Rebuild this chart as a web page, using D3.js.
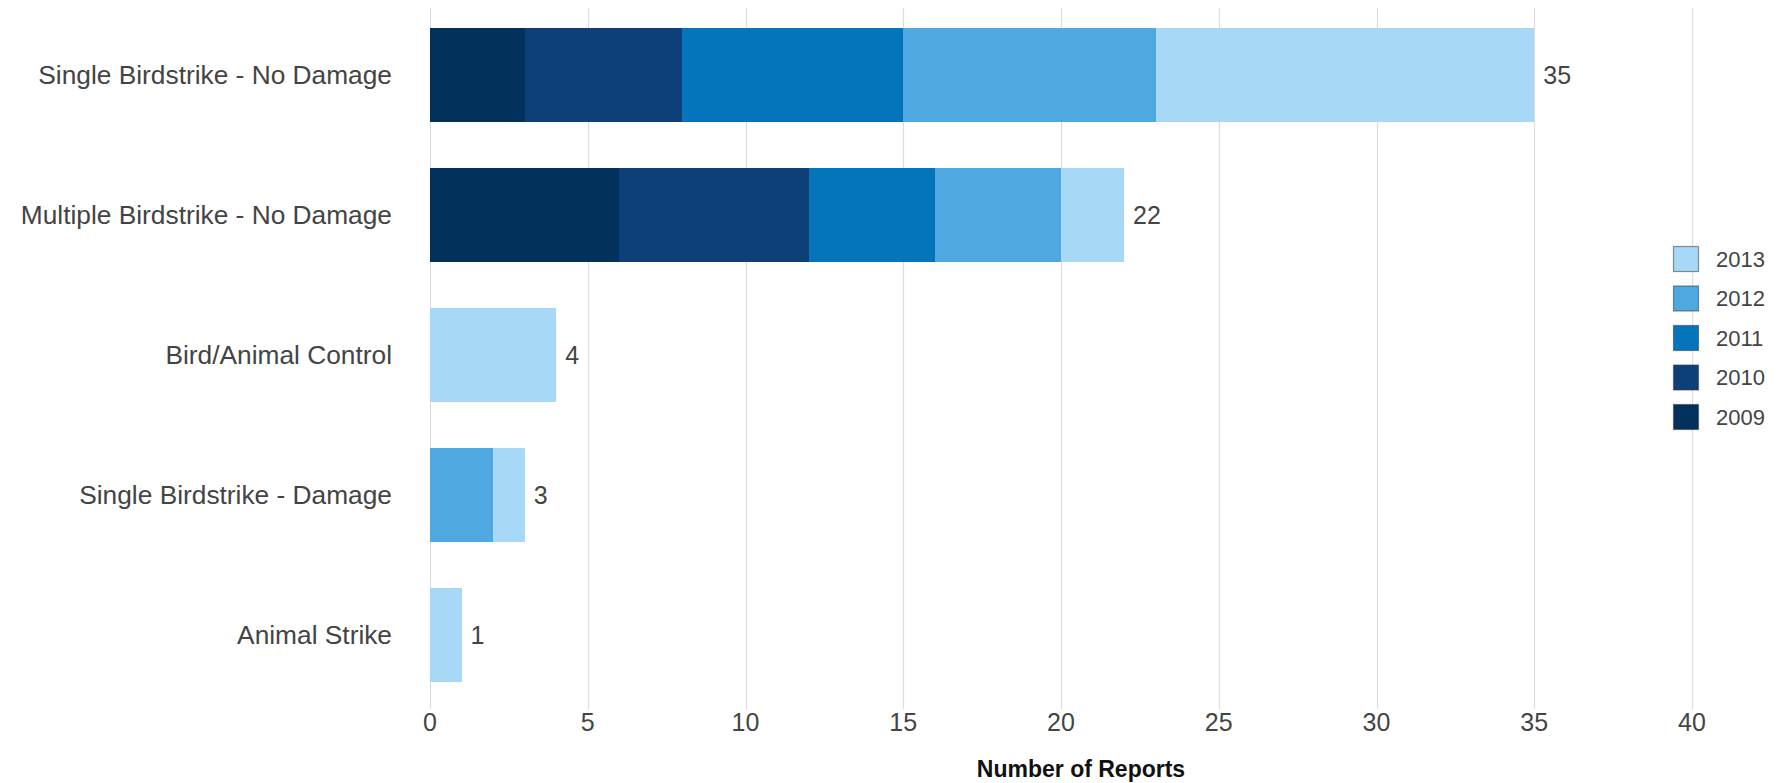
<!DOCTYPE html>
<html>
<head>
<meta charset="utf-8">
<script src="https://cdn.jsdelivr.net/npm/d3@7"></script>
<style>
  body { margin: 0; background: #fff; }
  svg { display: block; font-family: "Liberation Sans", Arial, sans-serif; }
  .grid line { stroke: #dcdcdc; stroke-width: 1.2; }
  .bars rect { shape-rendering: crispEdges; }
  .cat-label { fill: #444; font-size: 26.3px; }
  .tick-label { fill: #444; font-size: 25px; }
  .value-label { fill: #444; font-size: 25px; }
  .axis-title { fill: #111; font-size: 23px; font-weight: bold; }
  .legend text { fill: #444; font-size: 22px; }
</style>
</head>
<body>
<svg id="chart" width="1784" height="783"></svg>
<script>
// Bird / animal strike reports by category, stacked per year.

const categories = [
  "Single Birdstrike - No Damage",
  "Multiple Birdstrike - No Damage",
  "Bird/Animal Control",
  "Single Birdstrike - Damage",
  "Animal Strike",
];
const years = ["2009", "2010", "2011", "2012", "2013"];
const values2009 = [3, 6, 0, 0, 0];
const values2010 = [5, 6, 0, 0, 0];
const values2011 = [7, 4, 0, 0, 0];
const values2012 = [8, 4, 0, 2, 0];
const values2013 = [12, 2, 4, 1, 1];
const xTicks = [0, 5, 10, 15, 20, 25, 30, 35, 40];
const yearColors = ["#02315b", "#0d3f78", "#0474bb", "#4fa8e0", "#a7d8f5"];

const seriesValues = [values2009, values2010, values2011, values2012, values2013];

const rows = categories.map((name, i) => {
  const row = { name };
  years.forEach((year, j) => {
    row[year] = seriesValues[j][i];
  });
  row.total = d3.sum(years, (year) => row[year]);
  return row;
});

const svg = d3.select("#chart");
const margin = { top: 5, right: 92, bottom: 78, left: 430 };
const width = 1784 - margin.left - margin.right;
const height = 783 - margin.top - margin.bottom;

const x = d3.scaleLinear().domain([0, 40]).range([0, width]);
const y = d3
  .scaleBand()
  .domain(categories)
  .range([0, height])
  .paddingInner(0.335)
  .paddingOuter(0.335 / 2);
const color = d3.scaleOrdinal().domain(years).range(yearColors);

const g = svg
  .append("g")
  .attr("transform", `translate(${margin.left},${margin.top})`);

// vertical gridlines
g.append("g")
  .attr("class", "grid")
  .selectAll("line")
  .data(xTicks)
  .join("line")
  .attr("x1", (d) => Math.round(x(d)) + 0.5)
  .attr("x2", (d) => Math.round(x(d)) + 0.5)
  .attr("y1", 3)
  .attr("y2", height + 4);

// stacked bars
const stackData = d3.stack().keys(years)(rows);

g.append("g")
  .attr("class", "bars")
  .selectAll("g")
  .data(stackData, (s) => s.key)
  .join("g")
  .attr("fill", (s) => color(s.key))
  .selectAll("rect")
  .data((s) => s.filter((d) => d[1] > d[0]))
  .join("rect")
  .attr("x", (d) => x(d[0]))
  .attr("y", (d) => y(d.data.name))
  .attr("width", (d) => x(d[1]) - x(d[0]))
  .attr("height", y.bandwidth());

// totals at bar ends
g.append("g")
  .selectAll("text")
  .data(rows)
  .join("text")
  .attr("class", "value-label")
  .attr("x", (d) => x(d.total) + 9)
  .attr("y", (d) => y(d.name) + y.bandwidth() / 2)
  .attr("dy", "0.36em")
  .text((d) => d.total);

// category labels
g.append("g")
  .selectAll("text")
  .data(categories)
  .join("text")
  .attr("class", "cat-label")
  .attr("x", -38)
  .attr("y", (d) => y(d) + y.bandwidth() / 2)
  .attr("dy", "0.36em")
  .attr("text-anchor", "end")
  .text((d) => d);

// x tick labels
g.append("g")
  .selectAll("text")
  .data(xTicks)
  .join("text")
  .attr("class", "tick-label")
  .attr("x", (d) => x(d))
  .attr("y", height + 26)
  .attr("text-anchor", "middle")
  .text((d) => d);

g.append("text")
  .attr("class", "axis-title")
  .attr("x", width / 2 + 20)
  .attr("y", height + 72)
  .attr("text-anchor", "middle")
  .text("Number of Reports");

// legend, newest year on top
const legendYears = years.slice().reverse();
const legend = svg
  .append("g")
  .attr("class", "legend")
  .attr("transform", "translate(1673,246)");

const item = legend
  .selectAll("g")
  .data(legendYears)
  .join("g")
  .attr("transform", (d, i) => `translate(0,${i * 39.5})`);

item
  .append("rect")
  .attr("x", 0.5)
  .attr("y", 0.5)
  .attr("width", 25)
  .attr("height", 25)
  .attr("fill", (d) => color(d))
  .attr("stroke", "rgba(50,60,75,0.55)")
  .attr("stroke-width", 1.2);

item
  .append("text")
  .attr("x", 43)
  .attr("y", 13)
  .attr("dy", "0.36em")
  .text((d) => d);
</script>
</body>
</html>
